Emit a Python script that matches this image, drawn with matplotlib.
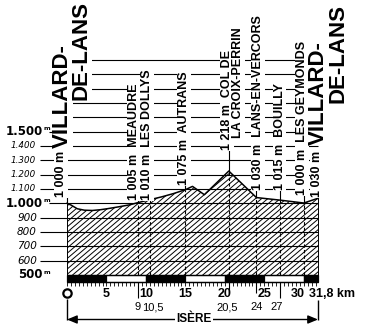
import matplotlib
matplotlib.use('Agg')
import matplotlib.pyplot as plt
from matplotlib.collections import LineCollection
import numpy as np

# profil de l'etape : km / altitude (m)
profile_km = [0, 0.5, 1.3, 2.2, 3.2, 4.2, 5.2, 6.5, 8, 9, 10.5, 12, 13.5, 15, 15.9, 17.4, 20.5, 24, 27, 30, 31.8]
profile_alt = [1000, 988, 962, 952, 950, 955, 963, 975, 990, 1005, 1025, 1045, 1068, 1095, 1118, 1060, 1225, 1040, 1022, 1002, 1035]

# points de passage
stop_km = [0, 9, 10.5, 15, 20.5, 24, 27, 30, 31.8]
stop_alt = ['1 000 m', '1 005 m', '1 010 m', '1 075 m', '1 218 m', '1 030 m', '1 015 m', '1 000 m', '1 030 m']
stop_name = ['', 'MEAUDRE', 'LES DOLLYS', 'AUTRANS', 'COL DE', 'LANS-EN-VERCORS', 'BOUILLY', 'LES GEYMONDS', '']
stop_name2 = 'LA CROIX-PERRIN'
town = ['VILLARD-', 'DE-LANS']

# echelle des altitudes
alt_big = [500, 1000, 1500]
alt_mid = [600, 700, 800, 900]
alt_small = [1100, 1200, 1300, 1400]
grid_alt = list(range(600, 2001, 100))

# echelle des km
km_ticks = [5, 10, 15, 20, 25]
km_sub = [9, 10.5, 20.5, 24, 27]
km_sub_lab = ['9', '10,5', '20,5', '24', '27']
total_km = 31.8
seg_edges = [0, 5, 10, 15, 20, 25, 30, 31.8]
dept = 'ISÈRE'

# conversion pixels de l'image -> coordonnees (km, m)
PX_KM = 7.893
PX_M = 0.1434
def kx(px):
    return (px - 67) / PX_KM
def my(py):
    return 500 + (275 - py) / PX_M

def alt_txt(v):
    if v >= 1000:
        return '%d.%03d' % (v // 1000, v % 1000)
    return str(v)

fig = plt.figure(figsize=(3.75, 3.36), dpi=100)
ax = fig.add_axes([0, 0, 1, 1])
ax.set_xlim(kx(0), kx(375))
ax.set_ylim(my(336), my(0))
ax.axis('off')

lbl = dict(family='Liberation Sans', fontweight='bold', color='black')
white = dict(facecolor='white', edgecolor='none', pad=0.6)

# zone hachuree + profil (hachures dessinees a la main, coupees par le profil)
zone = ax.fill(profile_km + [total_km, 0], profile_alt + [500, 500], facecolor='white',
               edgecolor='none', zorder=1)[0]
slope = PX_KM / PX_M * 0.85          # m par km pour des hachures a ~40 degres
starts = np.arange(-20, total_km + 1, 6.2 / PX_KM)
segs = [[(s, 450), (s + 900 / slope, 1350)] for s in starts]
hatch = LineCollection(segs, colors='black', linewidths=0.7, zorder=1.5)
ax.add_collection(hatch)
hatch.set_clip_path(zone)
ax.plot(profile_km, profile_alt, color='black', lw=1.1, zorder=4)

# lignes horizontales
for a in grid_alt:
    if a > 1500:
        x0 = kx(72)
    elif a in alt_big:
        x0 = kx(49)
    else:
        x0 = kx(40)
    ax.hlines(a, x0, total_km, color='black', lw=0.8, zorder=2)

# graduations d'altitude
for a in alt_big:
    ax.text(kx(43), a, alt_txt(a), ha='right', va='center', family='DejaVu Sans',
            fontweight='bold', fontsize=8.5)
    ax.text(kx(44), a + 3, 'm', ha='left', va='bottom', family='DejaVu Sans',
            fontweight='bold', fontsize=4.5)
for a in alt_mid:
    ax.text(kx(37), a, alt_txt(a), ha='right', va='center', family='DejaVu Sans',
            style='oblique', fontsize=7.5)
for a in alt_small:
    ax.text(kx(36), a, alt_txt(a), ha='right', va='center', family='DejaVu Sans',
            style='oblique', fontsize=6.3)

# reperes verticaux
elev = np.interp(stop_km, profile_km, profile_alt)
lab_dx = [-6, -4, -3, -1.5, -2, 1.5, -0.5, -2, -1]
lab_py = [197, 200, 200, 185, 150, 190, 190, 195, 197]
for k, e, a, n, dx, py in zip(stop_km, elev, stop_alt, stop_name, lab_dx, lab_py):
    if k in (0, total_km):
        ax.vlines(k, 500, e, color='black', lw=0.7, zorder=3)
    else:
        ax.vlines(k, 500, e, color='black', lw=0.8, linestyles=(0, (3, 2)), zorder=3)
    ax.vlines(k, e, my(py), color='black', lw=0.8, zorder=3)
    txt = a + ('  ' + n if n else '')
    ax.text(k + dx / PX_KM, my(py), txt, rotation=90, ha='center', va='bottom',
            fontsize=9, bbox=white, zorder=6, **lbl)
ax.text(kx(238), my(138), stop_name2, rotation=90, ha='center', va='bottom',
        fontsize=9, bbox=white, zorder=6, **lbl)

# villes de depart / arrivee
town_box = dict(facecolor='white', edgecolor='none', pad=0)
for px1, py1, px2, py2 in [(62, 148, 81, 100), (318, 145, 338, 103)]:
    ax.text(kx(px1), my(py1), town[0], rotation=90, ha='center', va='bottom',
            fontsize=16, bbox=town_box, zorder=7, **lbl)
    ax.text(kx(px2), my(py2), town[1], rotation=90, ha='center', va='bottom',
            fontsize=16, bbox=town_box, zorder=7, **lbl)

# barre kilometrique
bar_low = my(282)
for i in range(len(seg_edges) - 1):
    ax.bar(seg_edges[i], bar_low - 500, bottom=500, width=seg_edges[i + 1] - seg_edges[i],
           align='edge', color='black' if i % 2 == 0 else 'white',
           edgecolor='black', lw=0.9, zorder=3)
ax.hlines([500, bar_low], 0, total_km, color='black', lw=0.9, zorder=4)
ax.vlines(np.arange(0, total_km, 0.5), my(286), bar_low, color='black', lw=0.6)
ax.vlines([9, 27], my(298), bar_low, color='black', lw=0.8)
ax.vlines([20.5, 24], my(293), bar_low, color='black', lw=0.8)

y_km = my(294)
ax.plot(0, my(293), 'o', ms=6, mfc='white', mec='black', mew=1.6, zorder=5)
for k in km_ticks:
    ax.text(k, y_km, str(k), ha='center', va='center', fontsize=9, **lbl)
ax.text(kx(298), y_km, '30', ha='center', va='center', fontsize=9, **lbl)
ax.text(kx(309), y_km, '31,8 km', ha='left', va='center', fontsize=9, **lbl)

sub_dx = [0, 3, -2, 0, -3]
for k, t, dx in zip(km_sub, km_sub_lab, sub_dx):
    ax.text(k + dx / PX_KM, my(307), t, ha='center', va='center',
            family='Liberation Sans', fontsize=8)

# fleche departement
y_ar = my(319.5)
ax.vlines(0, y_ar, my(299), color='black', lw=1)
ax.vlines(total_km, y_ar, my(300), color='black', lw=1)
ax.annotate('', xy=(total_km, y_ar), xytext=(0, y_ar),
            arrowprops=dict(arrowstyle='<|-|>,head_length=0.6,head_width=0.25',
                            color='black', lw=1, shrinkA=0, shrinkB=0))
ax.text(kx(194), y_ar, dept, ha='center', va='center', fontsize=8.5,
        bbox=dict(facecolor='white', edgecolor='none', pad=1), zorder=6, **lbl)

fig.savefig('out.png', dpi=100)
